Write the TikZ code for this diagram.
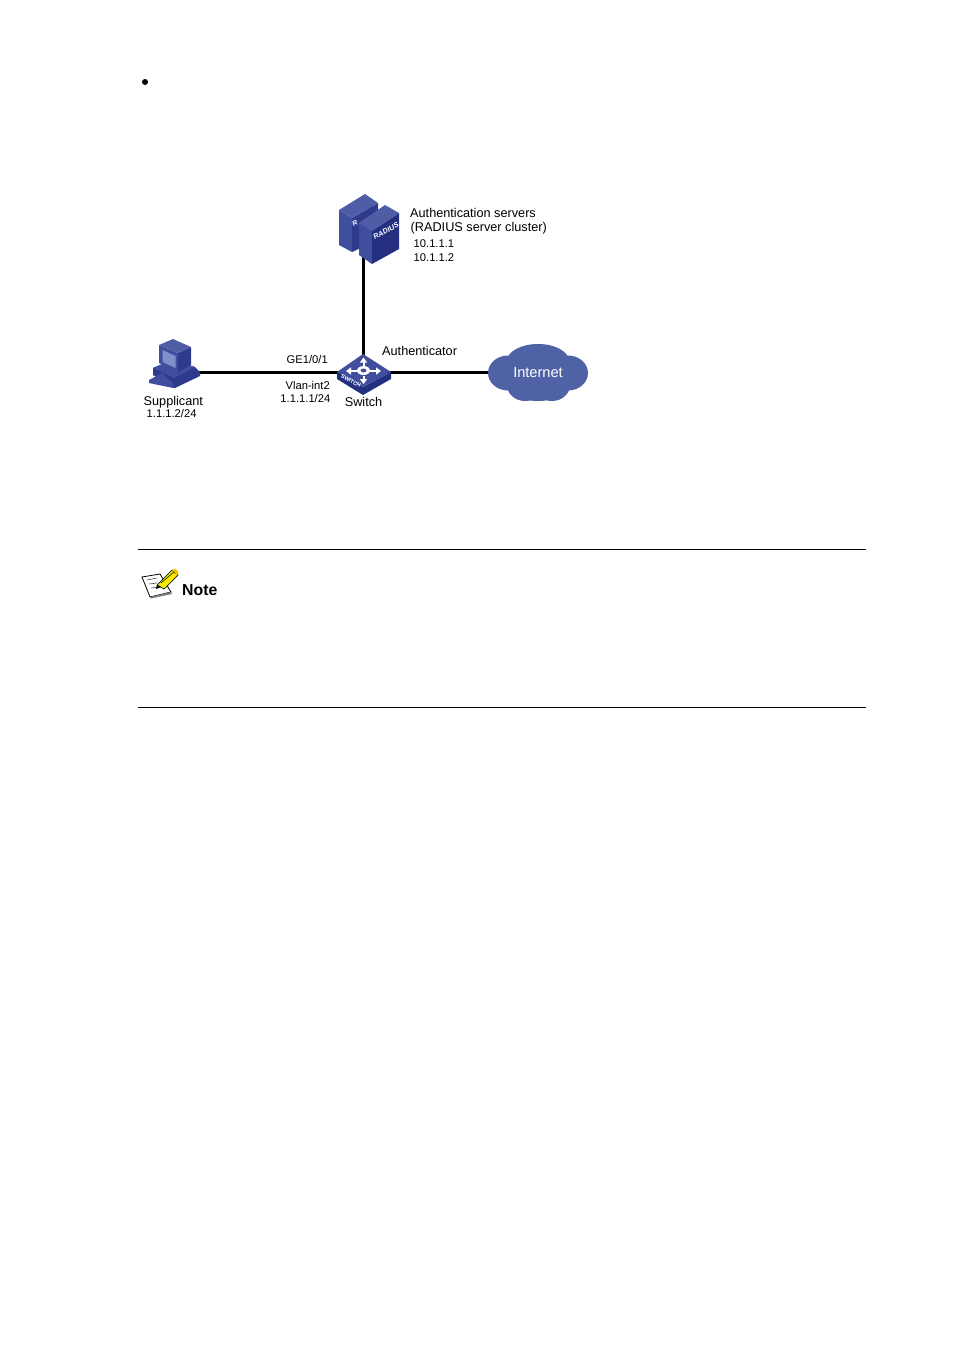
\documentclass[tikz,border=0pt]{standalone}
\usepackage{fontspec}
\usetikzlibrary{arrows.meta}
\setmainfont{Liberation Sans}
\definecolor{blueA}{HTML}{3F4F9E}
\definecolor{blueB}{HTML}{2E3A8C}
\definecolor{blueC}{HTML}{252F80}
\definecolor{blueS}{HTML}{8090CC}
\definecolor{cloudC}{HTML}{4F62A6}
\tikzset{
  lbl/.style={inner sep=0pt,font=\fontsize{12.7}{12.7}\selectfont,text=black},
  slbl/.style={inner sep=0pt,font=\fontsize{11.2}{11.2}\selectfont,text=black},
  link/.style={line width=3pt,black},
  rulel/.style={line width=0.8pt,black},
  anchorbox/.style={inner sep=0pt,minimum width=#1,minimum height=1pt},
  swarrow/.style={white,line width=2pt,-{Triangle[length=5pt,width=7pt]}}
}
\begin{document}
\begin{tikzpicture}[x=1pt,y=-1pt]
\useasboundingbox[fill=white] (0,0) rectangle (954,1350);
% bullet
\fill[black] (145,82) circle (3);
% anchor nodes for connectors
\node[anchorbox=10pt] (pc) at (194,372) {};
\node[anchorbox=54pt] (sw) at (363.5,372) {};
\node[anchorbox=40pt] (srv) at (363.5,256) {};
\node[anchorbox=10pt] (cl) at (494,372) {};
\node[inner sep=0pt,minimum size=1pt] (swtop) at (363.5,356) {};
\draw[link] (pc.center) -- (sw.center);
\draw[link] (sw.center) -- (cl.center);
\draw[link] (srv.center) -- (swtop.center);
% back server
\fill[blueA] (339,210) -- (352,218) -- (352,252) -- (339,245) -- cycle;
\fill[blueB] (352,218) -- (378,203) -- (378,240) -- (352,252) -- cycle;
\fill[blueA!92!white] (339,210) -- (365,194) -- (378,203) -- (352,218) -- cycle;
\node[font=\bfseries\itshape\fontsize{7}{7}\selectfont,text=white,inner sep=0pt,rotate=25] (rback) at (355,223) {R};
% front server
\fill[blueA] (359,223) -- (372,231) -- (372,264) -- (359,255) -- cycle;
\fill[blueC] (372,231) -- (399,213) -- (399,249) -- (372,264) -- cycle;
\fill[blueA!92!white] (359,223) -- (385,205) -- (399,213) -- (372,231) -- cycle;
\node[font=\bfseries\itshape\fontsize{7.2}{7.2}\selectfont,text=white,inner sep=0pt,rotate=28] (rfront) at (386,231) {RADIUS};
% PC base
\fill[blueB] (153,368) -- (172,360) -- (195,367) -- (200,372) -- (200,376) -- (175,388) -- (153,375) -- cycle;
\fill[blueA] (153,368) -- (172,360) -- (195,367) -- (174,378) -- cycle;
% PC monitor
\fill[blueA] (159,345) -- (178,353) -- (178,372) -- (159,363) -- cycle;
\fill[blueS] (162.5,350) -- (175.5,356) -- (175.5,368) -- (162.5,362) -- cycle;
\fill[blueB] (178,353) -- (191,347) -- (191,365) -- (178,372) -- cycle;
\fill[blueA!92!white] (159,345) -- (173,339) -- (191,347) -- (178,353) -- cycle;
% PC keyboard
\fill[blueA] (149,380) -- (162,373) -- (173,383) -- (173,388) -- (149,383) -- cycle;
\fill[blueB] (173,383) -- (180,380) -- (180,385) -- (173,388) -- cycle;
% switch
\fill[blueC] (337,372) -- (363,387) -- (391,372) -- (391,379) -- (363,395) -- (337,379) -- cycle;
\fill[blueA] (337,372) -- (363,354) -- (391,372) -- (363,387) -- cycle;
\node[font=\bfseries\fontsize{5.5}{5.5}\selectfont,text=white,inner sep=0pt,rotate=-28] (swtxt) at (351,381) {SWITCH};
\draw[swarrow] (357,371) -- (346,371);
\draw[swarrow] (370,371) -- (381,371);
\draw[swarrow] (363.5,366) -- (363.5,357.5);
\draw[swarrow] (363.5,376) -- (363.5,384);
\fill[white] (363.5,370.5) ellipse (6.5 and 4.5);
\fill[blueA] (363.5,370.5) ellipse (3 and 2);
% cloud
\fill[cloudC] (508,373) ellipse (20 and 17.5);
\fill[cloudC] (568,373) ellipse (20 and 17.5);
\fill[cloudC] (538,361) ellipse (31 and 17);
\fill[cloudC] (538,385) ellipse (31 and 16);
\fill[cloudC] (525,385) ellipse (18 and 16);
\fill[cloudC] (552,385) ellipse (18 and 16);
\node[inner sep=0pt,text=white,font=\fontsize{14.6}{14.6}\selectfont] (net) at (538,372.5) {Internet};
% labels
\node[lbl,anchor=west] (t1) at (410,213) {Authentication servers};
\node[lbl,anchor=west] (t2) at (410.5,228.5) {(RADIUS server cluster)};
\node[slbl,anchor=west] (t3) at (413.5,243.5) {10.1.1.1};
\node[slbl,anchor=west] (t4) at (413.5,257.5) {10.1.1.2};
\node[lbl,anchor=west] (t5) at (382,350.5) {Authenticator};
\node[slbl,anchor=east] (t6) at (328,359) {GE1/0/1};
\node[slbl,anchor=east] (t7) at (330,385.5) {Vlan-int2};
\node[slbl,anchor=east] (t8) at (330.5,398) {1.1.1.1/24};
\node[lbl,anchor=center] (t9) at (363.5,402) {Switch};
\node[lbl,anchor=west] (t10) at (143.5,402) {Supplicant};
\node[slbl,anchor=west] (t11) at (146.5,413.5) {1.1.1.2/24};
% rules
\node[inner sep=0pt,minimum size=0pt] (r1a) at (138,549.5) {};
\node[inner sep=0pt,minimum size=0pt] (r1b) at (866,549.5) {};
\node[inner sep=0pt,minimum size=0pt] (r2a) at (138,707.5) {};
\node[inner sep=0pt,minimum size=0pt] (r2b) at (866,707.5) {};
\draw[rulel] (r1a) -- (r1b);
\draw[rulel] (r2a) -- (r2b);
% note icon
\draw[black,fill=white,line width=0.8pt] (142,577) -- (160,574) -- (171,592) -- (150,597) -- cycle;
\draw[black!70,line width=0.6pt] (147,580) -- (157,578) (149,584) -- (157,583) (151,588) -- (160,587);
\fill[black!50] (150,597) -- (171,592) -- (172,594) -- (151,598.5) -- cycle;
\draw[black!60!green!40!black,fill=yellow!90!orange,line width=0.7pt] (157,585) -- (172,570) -- (178,575) -- (164,589) -- cycle;
\draw[black!60!green!40!black,line width=0.6pt] (161,583) -- (174,572);
\fill[black] (156,589) -- (157,584.5) -- (161,587) -- cycle;
\fill[yellow!60!orange] (172,570) -- (175,568.5) -- (178.5,571.5) -- (178,575) -- cycle;
\node[inner sep=0pt,anchor=west,font=\bfseries\fontsize{15.8}{15.8}\selectfont] (note) at (182,590) {Note};
\end{tikzpicture}
\end{document}
